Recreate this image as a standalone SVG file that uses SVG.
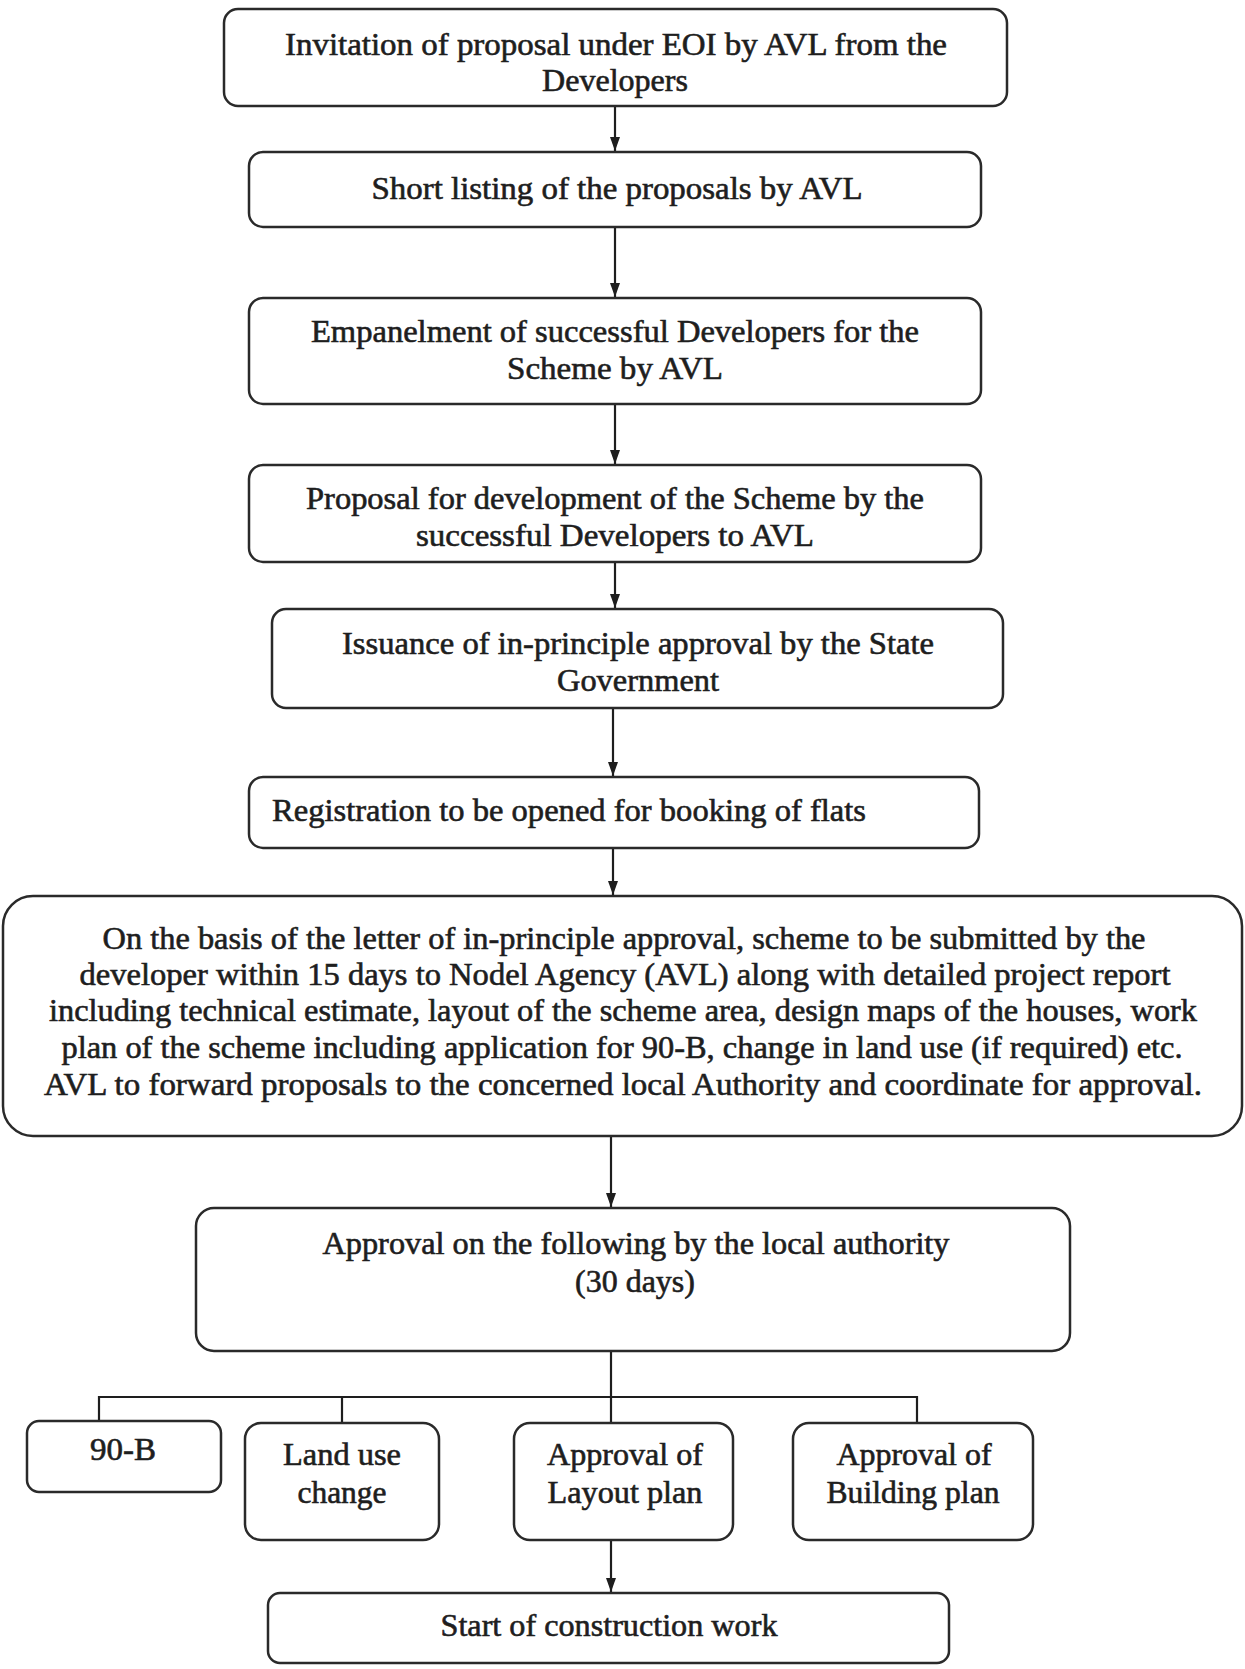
<svg xmlns="http://www.w3.org/2000/svg" width="1245" height="1669" viewBox="0 0 1245 1669">
<style>
.box{fill:#fff;stroke:#2a2a2a;stroke-width:2.5}
.t{font-family:"Liberation Serif","Times New Roman",serif;font-size:31px;fill:#1e1e1e;stroke:#1e1e1e;stroke-width:0.6;text-anchor:middle}
.l{text-anchor:start}
.c{fill:none;stroke:#1e1e1e;stroke-width:2.2}
</style>
<defs>
<marker id="ah" viewBox="0 0 14 10" refX="14" refY="5" markerWidth="14" markerHeight="10" orient="auto" markerUnits="userSpaceOnUse">
<path d="M0,0 L14,5 L0,10 z" fill="#1e1e1e"/>
</marker>
</defs>
<rect width="1245" height="1669" fill="#fff"/>
<g id="connectors">
<line class="c" x1="615" y1="106" x2="615" y2="151" marker-end="url(#ah)"/>
<line class="c" x1="615" y1="227" x2="615" y2="297" marker-end="url(#ah)"/>
<line class="c" x1="615" y1="404" x2="615" y2="464" marker-end="url(#ah)"/>
<line class="c" x1="615" y1="562" x2="615" y2="608" marker-end="url(#ah)"/>
<line class="c" x1="613" y1="708" x2="613" y2="776" marker-end="url(#ah)"/>
<line class="c" x1="613" y1="848" x2="613" y2="895" marker-end="url(#ah)"/>
<line class="c" x1="611" y1="1136" x2="611" y2="1207" marker-end="url(#ah)"/>
<line class="c" x1="611" y1="1351" x2="611" y2="1423"/>
<polyline class="c" points="99,1421 99,1397 917,1397 917,1423"/>
<line class="c" x1="342" y1="1397" x2="342" y2="1423"/>
<line class="c" x1="611" y1="1540" x2="611" y2="1592" marker-end="url(#ah)"/>
</g>
<g id="n1">
<rect class="box" x="224" y="9" width="783" height="97" rx="14"/>
<text class="t" x="616" y="55" textLength="662" lengthAdjust="spacingAndGlyphs">Invitation of proposal under EOI by AVL from the</text>
<text class="t" x="615" y="91" textLength="146" lengthAdjust="spacingAndGlyphs">Developers</text>
</g>
<g id="n2">
<rect class="box" x="249" y="152" width="732" height="75" rx="14"/>
<text class="t" x="617" y="199" textLength="491" lengthAdjust="spacingAndGlyphs">Short listing of the proposals by AVL</text>
</g>
<g id="n3">
<rect class="box" x="249" y="298" width="732" height="106" rx="14"/>
<text class="t" x="615" y="342" textLength="608" lengthAdjust="spacingAndGlyphs">Empanelment of successful Developers for the</text>
<text class="t" x="615" y="379" textLength="216" lengthAdjust="spacingAndGlyphs">Scheme by AVL</text>
</g>
<g id="n4">
<rect class="box" x="249" y="465" width="732" height="97" rx="14"/>
<text class="t" x="615" y="509" textLength="618" lengthAdjust="spacingAndGlyphs">Proposal for development of the Scheme by the</text>
<text class="t" x="615" y="546" textLength="398" lengthAdjust="spacingAndGlyphs">successful Developers to AVL</text>
</g>
<g id="n5">
<rect class="box" x="272" y="609" width="731" height="99" rx="14"/>
<text class="t" x="638" y="654" textLength="592" lengthAdjust="spacingAndGlyphs">Issuance of in-principle approval by the State</text>
<text class="t" x="638" y="691" textLength="162" lengthAdjust="spacingAndGlyphs">Government</text>
</g>
<g id="n6">
<rect class="box" x="249" y="777" width="730" height="71" rx="14"/>
<text class="t l" x="272" y="821" textLength="594" lengthAdjust="spacingAndGlyphs">Registration to be opened for booking of flats</text>
</g>
<g id="n7">
<rect class="box" x="3" y="896" width="1239" height="240" rx="30"/>
<text class="t" x="624" y="949" textLength="1043" lengthAdjust="spacingAndGlyphs">On the basis of the letter of in-principle approval, scheme to be submitted by the</text>
<text class="t" x="625" y="985" textLength="1091" lengthAdjust="spacingAndGlyphs">developer within 15 days to Nodel Agency (AVL) along with detailed project report</text>
<text class="t" x="623" y="1021" textLength="1148" lengthAdjust="spacingAndGlyphs">including technical estimate, layout of the scheme area, design maps of the houses, work</text>
<text class="t" x="622" y="1058" textLength="1121" lengthAdjust="spacingAndGlyphs">plan of the scheme including application for 90-B, change in land use (if required) etc.</text>
<text class="t" x="623" y="1095" textLength="1158" lengthAdjust="spacingAndGlyphs">AVL to forward proposals to the concerned  local Authority and coordinate for approval.</text>
</g>
<g id="n8">
<rect class="box" x="196" y="1208" width="874" height="143" rx="18"/>
<text class="t" x="636" y="1254" textLength="627" lengthAdjust="spacingAndGlyphs">Approval on the following by the local authority</text>
<text class="t" x="635" y="1292" textLength="120" lengthAdjust="spacingAndGlyphs">(30 days)</text>
</g>
<g id="n9">
<rect class="box" x="27" y="1421" width="194" height="71" rx="12"/>
<text class="t" x="123" y="1460" textLength="66" lengthAdjust="spacingAndGlyphs">90-B</text>
</g>
<g id="n10">
<rect class="box" x="245" y="1423" width="194" height="117" rx="16"/>
<text class="t" x="342" y="1465" textLength="118" lengthAdjust="spacingAndGlyphs">Land use</text>
<text class="t" x="342" y="1503" textLength="89" lengthAdjust="spacingAndGlyphs">change</text>
</g>
<g id="n11">
<rect class="box" x="514" y="1423" width="219" height="117" rx="16"/>
<text class="t" x="625" y="1465" textLength="156" lengthAdjust="spacingAndGlyphs">Approval of</text>
<text class="t" x="625" y="1503" textLength="155" lengthAdjust="spacingAndGlyphs">Layout plan</text>
</g>
<g id="n12">
<rect class="box" x="793" y="1423" width="240" height="117" rx="16"/>
<text class="t" x="914" y="1465" textLength="155" lengthAdjust="spacingAndGlyphs">Approval of</text>
<text class="t" x="913" y="1503" textLength="173" lengthAdjust="spacingAndGlyphs">Building plan</text>
</g>
<g id="n13">
<rect class="box" x="268" y="1593" width="681" height="70" rx="12"/>
<text class="t" x="609" y="1636" textLength="337" lengthAdjust="spacingAndGlyphs">Start of construction work</text>
</g>
</svg>
